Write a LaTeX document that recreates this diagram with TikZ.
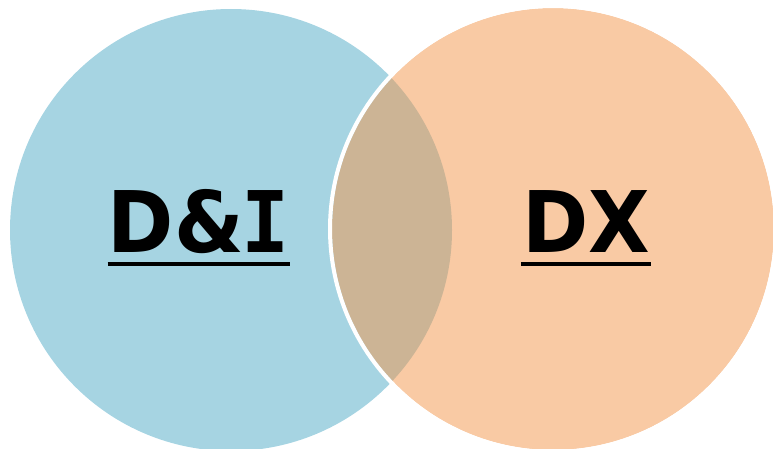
\documentclass[tikz,border=0pt]{standalone}
\usepackage{fontspec}
\setmainfont[FakeStretch=0.94]{DejaVu Sans}
\newfontfamily\monoI[FakeStretch=0.94]{DejaVu Sans Mono}
\definecolor{blueC}{HTML}{A6D4E2}
\definecolor{orangeC}{HTML}{F3954A}
\begin{document}
\begin{tikzpicture}[x=1pt,y=-1pt,
  lbl/.style={inner sep=0pt, anchor=base, font=\fontsize{85}{90}\selectfont\bfseries},
  uline/.style={line width=4pt, black}]
\useasboundingbox (0,0) rectangle (773,449);
\clip (0,0) rectangle (773,449);
\fill[blueC] (231,230) circle[radius=221];
\fill[orangeC, fill opacity=0.5] (553,229) circle[radius=221];
\draw[white, line width=4pt] (553,229) circle[radius=223];
\node[lbl] (di) at (199,252) {D\&\kern-2pt{\monoI\bfseries I}};
\node[lbl] (dx) at (586,252) {DX};
\draw[uline] ([yshift=-12pt]di.base west) -- ([yshift=-12pt]di.base east);
\draw[uline] ([xshift=-1pt,yshift=-12pt]dx.base west) -- ([xshift=1pt,yshift=-12pt]dx.base east);
\end{tikzpicture}
\end{document}
